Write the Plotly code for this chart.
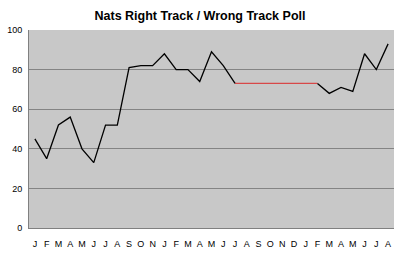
import plotly.graph_objects as go

months = ["J","F","M","A","M","J","J","A","S","O","N",
          "J","F","M","A","M","J","J","A","S","O","N","D",
          "J","F","M","A","M","J","J","A"]
values = [45, 35, 52, 56, 40, 33, 52, 52, 81, 82, 82,
          88, 80, 80, 74, 89, 82, 73, None, None, None, None, None,
          None, 73, 68, 71, 69, 88, 80, 93]
gap_values = [None]*17 + [73, 73, 73, 73, 73, 73, 73, 73] + [None]*6
y_ticks = [0, 20, 40, 60, 80, 100]

x = list(range(len(months)))
font = "Liberation Sans, Arial, sans-serif"

fig = go.Figure()
fig.add_trace(go.Scatter(x=x, y=gap_values, mode="lines",
                         line=dict(color="#D84848", width=1.2),
                         connectgaps=False, hoverinfo="skip"))
fig.add_trace(go.Scatter(x=x, y=values, mode="lines",
                         line=dict(color="black", width=1.3),
                         connectgaps=False))

fig.update_layout(
    width=400, height=255,
    margin=dict(l=29, r=6, t=30, b=27),
    paper_bgcolor="white", plot_bgcolor="#C8C8C8",
    showlegend=False,
    title=dict(text="<b>Nats Right Track / Wrong Track Poll</b>",
               x=0.5, xanchor="center", y=0.94, yanchor="middle",
               font=dict(family=font, size=12.5, color="black")),
    xaxis=dict(range=[-0.5, len(months)-0.5], tickvals=x, ticktext=months,
               showgrid=False, zeroline=False, showline=True,
               linecolor="#808080", linewidth=1, ticks="",
               tickfont=dict(family=font, size=9, color="black"),
               tickangle=0, ticklabelstandoff=7),
    yaxis=dict(range=[0, 100], tickvals=y_ticks, showgrid=True,
               gridcolor="#848484", gridwidth=1, zeroline=False,
               showline=True, linecolor="#808080", linewidth=1,
               ticks="", tickfont=dict(family=font, size=9, color="black"),
               ticklabelstandoff=4),
)
fig.update_xaxes(tickprefix="<b>", ticksuffix="</b>")
fig.update_yaxes(tickprefix="<b>", ticksuffix="</b>")
fig.write_html("out.html")
